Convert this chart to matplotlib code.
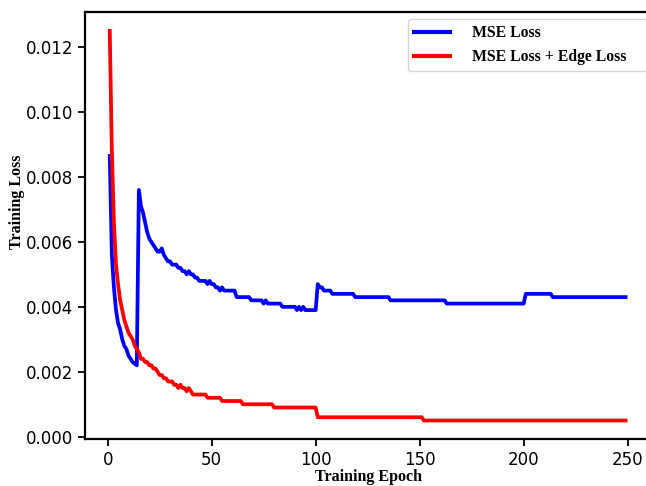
import matplotlib
matplotlib.use("Agg")
import matplotlib.pyplot as plt

# breakpoints (epoch, training loss)
mse_epochs = [1, 2, 3, 4, 5, 6, 7, 8, 9, 10, 11, 12, 13, 14, 15, 16, 17, 18, 19, 20,
              21, 22, 23, 24, 25, 26, 27, 28, 29, 30, 31, 32, 33, 34, 35, 36, 37, 38, 39, 40,
              41, 42, 43, 44, 45, 46, 47, 48, 49, 50, 51, 52, 53, 54, 55, 56, 61, 62, 68, 69,
              74, 75, 76, 77, 83, 84, 90, 91, 92, 93, 94, 95, 100, 101, 102, 103, 104, 107, 108, 118,
              119, 135, 136, 162, 163, 200, 201, 213, 214, 249]
mse_loss = [0.00865, 0.0056, 0.0046, 0.0039, 0.0035, 0.0033, 0.0030, 0.0028, 0.0027, 0.0025,
            0.0024, 0.0023, 0.00225, 0.0022, 0.0076, 0.0071, 0.0069, 0.0066, 0.0063, 0.0061,
            0.0060, 0.0059, 0.0058, 0.0057, 0.0057, 0.0058, 0.0056, 0.0055, 0.0054, 0.0054,
            0.0053, 0.0053, 0.0053, 0.0052, 0.0052, 0.0051, 0.0051, 0.0050, 0.0051, 0.0050,
            0.0050, 0.0049, 0.0049, 0.0048, 0.0048, 0.0048, 0.0048, 0.0047, 0.0048, 0.0047,
            0.0047, 0.0046, 0.0046, 0.0045, 0.0046, 0.0045, 0.0045, 0.0043, 0.0043, 0.0042,
            0.0042, 0.0041, 0.0042, 0.0041, 0.0041, 0.0040, 0.0040, 0.0039, 0.0040, 0.0039,
            0.0040, 0.0039, 0.0039, 0.0047, 0.0046, 0.0046, 0.0045, 0.0045, 0.0044, 0.0044,
            0.0043, 0.0043, 0.0042, 0.0042, 0.0041, 0.0041, 0.0044, 0.0044, 0.0043, 0.0043]

edge_epochs = [1, 2, 3, 4, 5, 6, 7, 8, 9, 10, 11, 12, 13, 14, 15, 16, 17, 18, 19, 20,
               21, 22, 23, 24, 25, 26, 27, 28, 29, 30, 31, 32, 33, 34, 35, 36, 37, 38, 39, 40,
               41, 47, 48, 54, 55, 64, 65, 79, 80, 100, 101, 151, 152, 249]
edge_loss = [0.0125, 0.0088, 0.0066, 0.0053, 0.0047, 0.0042, 0.0039, 0.0036, 0.0034, 0.0032,
             0.0031, 0.0030, 0.0028, 0.0027, 0.0026, 0.0024, 0.0024, 0.0023, 0.0023, 0.0022,
             0.0022, 0.0021, 0.0021, 0.0020, 0.0019, 0.0019, 0.0018, 0.0018, 0.0017, 0.0017,
             0.0017, 0.0016, 0.0016, 0.0015, 0.0016, 0.0015, 0.0015, 0.0014, 0.0015, 0.0014,
             0.0013, 0.0013, 0.0012, 0.0012, 0.0011, 0.0011, 0.0010, 0.0010, 0.0009, 0.0009,
             0.0006, 0.0006, 0.0005, 0.0005]

y_ticks = [0.000, 0.002, 0.004, 0.006, 0.008, 0.010, 0.012]
x_ticks = [0, 50, 100, 150, 200, 250]

serif_bold = {"family": "Liberation Serif", "weight": "bold"}

fig = plt.figure(figsize=(6.46, 4.86), dpi=100)
# axes runs past the right edge, like the cropped original
ax = fig.add_axes([85 / 646, 47 / 486, 566.4 / 646, 427 / 486])

ax.plot(mse_epochs, mse_loss, color="blue", lw=2.7, label="MSE Loss")
ax.plot(edge_epochs, edge_loss, color="red", lw=2.7, label="MSE Loss + Edge Loss")

ax.set_xlim(-10.9, 261.4)
ax.set_ylim(-0.00007, 0.01308)
ax.set_xticks(x_ticks)
ax.set_yticks(y_ticks)
ax.tick_params(labelsize=12, width=1.3, length=5)
for s in ax.spines.values():
    s.set_linewidth(1.6)
ax.spines["right"].set_visible(False)

ax.set_xlabel("Training Epoch", fontdict=serif_bold, fontsize=11.5, labelpad=0)
ax.set_ylabel("Training Loss", fontdict=serif_bold, fontsize=11.5)
ax.yaxis.set_label_coords(-0.106, 0.555)

# legend box starts at x~408px and runs off the right edge
leg = ax.legend(loc="upper left", bbox_to_anchor=(0.570, 0.60, 0.43, 0.3836), mode="expand",
                borderaxespad=0, handletextpad=1.4, handlelength=2.3,
                prop={"family": "Liberation Serif", "weight": "bold", "size": 11.3})
for line in leg.get_lines():
    line.set_linewidth(3)

fig.savefig("out.png", dpi=100)
